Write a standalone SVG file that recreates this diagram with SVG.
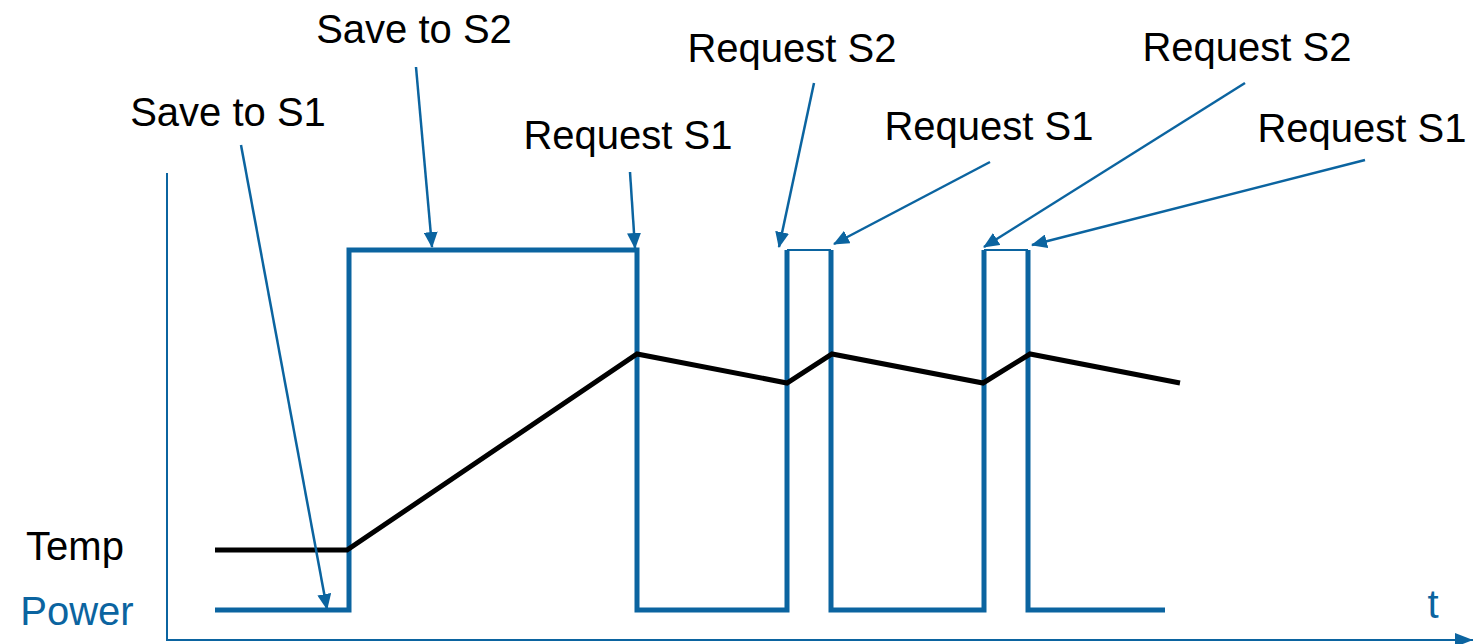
<svg xmlns="http://www.w3.org/2000/svg" width="1473" height="644" viewBox="0 0 1473 644">
<style>
.lbl{font-family:"Liberation Sans",Arial,sans-serif;font-size:40px;fill:#000;text-anchor:middle}
.blue{fill:#0b64a0}
.pw{fill:none;stroke:#0b64a0;stroke-width:5;stroke-linejoin:miter}
.pt{fill:none;stroke:#0b64a0;stroke-width:2}
.tmp{fill:none;stroke:#000;stroke-width:5;stroke-linejoin:miter}
.ax{fill:none;stroke:#0b64a0;stroke-width:2}
.arr{fill:none;stroke:#0b64a0;stroke-width:2.5;marker-end:url(#ah)}
</style>
<defs>
<marker id="ah" markerUnits="userSpaceOnUse" markerWidth="16" markerHeight="14" refX="15" refY="7" orient="auto">
<path d="M0,0 L16,7 L0,14 Z" fill="#0b64a0"/>
</marker>
<marker id="axh" markerUnits="userSpaceOnUse" markerWidth="18" markerHeight="14" refX="18" refY="7" orient="auto">
<path d="M0,0 L18,7 L0,14 Z" fill="#0b64a0"/>
</marker>
</defs>
<g id="axes">
<path class="ax" d="M167,173 V640 H1473" marker-end="url(#axh)"/>
</g>
<g id="power">
<path class="pw" d="M215,610 H349 V250 H637 V610 H787 V250"/>
<path class="pt" d="M787,250 H831"/>
<path class="pw" d="M831,250 V610 H984 V250"/>
<path class="pt" d="M984,250 H1028"/>
<path class="pw" d="M1028,250 V610 H1165"/>
</g>
<g id="temp">
<path class="tmp" d="M215,550 H347 L637,354 L787,383 L832,354 L983,383 L1030,354 L1180,383"/>
</g>
<g id="connectors">
<line class="arr" x1="241" y1="145" x2="327" y2="609"/>
<line class="arr" x1="416" y1="67" x2="432" y2="247"/>
<line class="arr" x1="630" y1="172" x2="635" y2="248"/>
<line class="arr" x1="814" y1="83" x2="779" y2="247"/>
<line class="arr" x1="990" y1="162" x2="834" y2="244"/>
<line class="arr" x1="1245" y1="83" x2="984" y2="247"/>
<line class="arr" x1="1365" y1="160" x2="1032" y2="245"/>
</g>
<g id="labels">
<text class="lbl" x="228" y="126">Save to S1</text>
<text class="lbl" x="414" y="43">Save to S2</text>
<text class="lbl" x="628" y="149">Request S1</text>
<text class="lbl" x="792" y="62">Request S2</text>
<text class="lbl" x="989" y="140">Request S1</text>
<text class="lbl" x="1247" y="61">Request S2</text>
<text class="lbl" x="1362" y="142">Request S1</text>
<text class="lbl" x="75" y="560">Temp</text>
<text class="lbl blue" x="77" y="625">Power</text>
<text class="lbl blue" x="1433" y="618">t</text>
</g>
</svg>
